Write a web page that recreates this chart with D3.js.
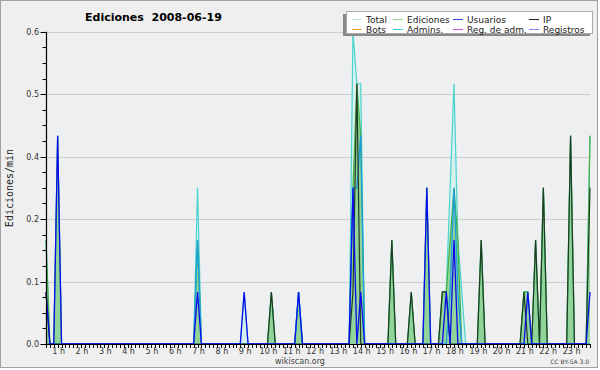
<!DOCTYPE html>
<html>
<head>
<meta charset="utf-8">
<script src="https://cdn.jsdelivr.net/npm/d3@7"></script>
<style>
  body { margin: 0; background: #ffffff; }
  svg text { font-family: "DejaVu Sans", sans-serif; }
</style>
</head>
<body>
<div id="chart"></div>
<script>
// 10 minute slots with activity (zeros bracket every spike)
var times = ["00:30","00:40","00:50","01:00","01:10",
  "06:50","07:00","07:10",
  "08:50","09:00","09:10",
  "10:00","10:10","10:20",
  "11:10","11:20","11:30",
  "13:30","13:40","13:50","14:00","14:10",
  "15:10","15:20","15:30",
  "16:00","16:10","16:20",
  "16:40","16:50","17:00",
  "17:20","17:30","17:40","17:50","18:00","18:10","18:20","18:30",
  "19:00","19:10","19:20",
  "20:50","21:00","21:10","21:20","21:30","21:40","21:50","22:00",
  "22:50","23:00","23:10",
  "23:40","23:50"];

var total = [0.2,0,0,0.4,0, 0,0.3,0, 0,0.1,0, 0,0.1,0, 0,0.1,0,
  0,0.6,0.5,0.5,0, 0,0.2,0, 0,0.1,0, 0,0.3,0,
  0,0.1,0.1,0.3,0.5,0.2,0.1,0, 0,0.2,0,
  0,0.1,0.1,0,0.2,0,0.3,0, 0,0.4,0, 0,0.4];
var ediciones = [0.2,0,0,0.4,0, 0,0.2,0, 0,0,0, 0,0.1,0, 0,0.1,0,
  0,0.3,0.5,0.4,0, 0,0.2,0, 0,0.1,0, 0,0.3,0,
  0,0.1,0.1,0.2,0.3,0.2,0,0, 0,0.2,0,
  0,0.1,0.1,0,0.2,0,0.3,0, 0,0.4,0, 0,0.4];
var usuarios = [0.1,0,0,0.4,0, 0,0.1,0, 0,0.1,0, 0,0,0, 0,0.1,0,
  0,0.3,0,0.1,0, 0,0,0, 0,0,0, 0,0.3,0,
  0,0,0.1,0,0.2,0,0,0, 0,0,0,
  0,0,0.1,0,0,0,0,0, 0,0,0, 0,0.1];
var ip = [0.1,0,0,0,0, 0,0,0, 0,0,0, 0,0.1,0, 0,0,0,
  0,0.1,0.5,0,0, 0,0.2,0, 0,0.1,0, 0,0,0,
  0,0.1,0.1,0,0,0,0,0, 0,0.2,0,
  0,0.1,0,0,0.2,0,0.3,0, 0,0.4,0, 0,0.3];
var admins = [0,0,0,0,0, 0,0.2,0, 0,0,0, 0,0,0, 0,0.1,0,
  0,0.3,0.3,0.4,0, 0,0,0, 0,0,0, 0,0,0,
  0,0,0,0.1,0.3,0.1,0,0, 0,0,0,
  0,0,0,0,0,0,0,0, 0,0,0, 0,0];

var hourLabels = ["1 h","2 h","3 h","4 h","5 h","6 h","7 h","8 h","9 h","10 h","11 h","12 h",
  "13 h","14 h","15 h","16 h","17 h","18 h","19 h","20 h","21 h","22 h","23 h"];
var yTicks = [0, 0.12, 0.24, 0.36, 0.48, 0.6];

var legendNames = ["Total","Ediciones","Usuarios","IP","Bots","Admins.","Reg. de adm.","Registros"];
var legendColors = ["#b4eeee","#8fdc8f","#3a3ae0","#222222","#f0a030","#3ccce0","#d050e0","#8484f0"];

var W = 600, H = 370;
var pLeft = 46, pRight = 590, pTop = 31.7, pBottom = 344;

function toHours(s) {
  var p = s.split(":");
  return +p[0] + p[1] / 60;
}

var svg = d3.select("#chart").append("svg")
  .attr("width", W).attr("height", H);

svg.append("rect")
  .attr("x", 0.5).attr("y", 0.5).attr("width", 597).attr("height", 367)
  .attr("fill", "#efefef").attr("stroke", "#a0a0a0");

svg.append("rect")
  .attr("x", pLeft).attr("y", pTop).attr("width", pRight - pLeft).attr("height", pBottom - pTop)
  .attr("fill", "#edeff1");

var x = d3.scaleLinear().domain([0.5, 23 + 50 / 60]).range([pLeft, pRight]);
var y = d3.scaleLinear().domain([0, 0.6]).range([pBottom, pTop]);

// grid
svg.selectAll("line.grid")
  .data(yTicks.slice(1))
  .enter().append("line")
    .attr("x1", pLeft).attr("x2", pRight)
    .attr("y1", function (d) { return Math.round(y(d)) + 0.5; })
    .attr("y2", function (d) { return Math.round(y(d)) + 0.5; })
    .attr("stroke", "#cdcdcd");

var tx = times.map(toHours);

function series(vals) {
  return vals.map(function (v, i) { return [tx[i], v]; });
}

var area = d3.area()
  .x(function (d) { return x(d[0]); })
  .y0(pBottom)
  .y1(function (d) { return y(d[1]); });
var line = d3.line()
  .x(function (d) { return x(d[0]); })
  .y(function (d) { return y(d[1]); });

var plot = svg.append("g");

plot.append("path").datum(series(total))
  .attr("d", area).attr("fill", "#c6f0f0").attr("fill-opacity", 0.6);
plot.append("path").datum(series(ediciones))
  .attr("d", area).attr("fill", "#6cc46c").attr("fill-opacity", 0.65);
plot.append("path").datum(series(total))
  .attr("d", line).attr("fill", "none").attr("stroke", "#48d4cc").attr("stroke-width", 1.2);
plot.append("path").datum(series(ediciones))
  .attr("d", line).attr("fill", "none").attr("stroke", "#44b044").attr("stroke-width", 1.2);
plot.append("path").datum(series(admins))
  .attr("d", line).attr("fill", "none").attr("stroke", "#1c9ee0").attr("stroke-width", 1.3);
plot.append("path").datum(series(ip))
  .attr("d", line).attr("fill", "none").attr("stroke", "#1f3a22").attr("stroke-width", 1.2);
plot.append("path").datum(series(usuarios))
  .attr("d", line).attr("fill", "none").attr("stroke", "#0a0af0").attr("stroke-width", 1.3);

// y axis
var yMinor = d3.range(0, 21).map(function (i) { return i * 0.03; });
svg.selectAll("line.ym")
  .data(yMinor)
  .enter().append("line")
    .attr("x1", function (d, i) { return i % 4 === 0 ? 40.5 : 42.5; })
    .attr("x2", pLeft)
    .attr("y1", function (d) { return Math.round(y(d)) + 0.5; })
    .attr("y2", function (d) { return Math.round(y(d)) + 0.5; })
    .attr("stroke", "#000");
svg.append("line")
  .attr("x1", pLeft + 0.5).attr("x2", pLeft + 0.5).attr("y1", pTop).attr("y2", pBottom + 1)
  .attr("stroke", "#000").attr("stroke-width", 1.2);
svg.selectAll("text.yl")
  .data(yTicks)
  .enter().append("text")
    .attr("x", 39)
    .attr("y", function (d) { return y(d) + 3; })
    .attr("text-anchor", "end")
    .style("font-size", "8px")
    .style("fill", "#333")
    .text(function (d) { return d.toFixed(1); });

// x axis
var xMinor = d3.range(0, 141).map(function (i) { return 0.5 + i / 6; });
svg.selectAll("line.xm")
  .data(xMinor)
  .enter().append("line")
    .attr("x1", function (d) { return Math.round(x(d)) + 0.5; })
    .attr("x2", function (d) { return Math.round(x(d)) + 0.5; })
    .attr("y1", pBottom).attr("y2", pBottom + 4)
    .attr("stroke", "#000");
svg.append("line")
  .attr("x1", pLeft).attr("x2", pRight + 1).attr("y1", pBottom + 0.5).attr("y2", pBottom + 0.5)
  .attr("stroke", "#000").attr("stroke-width", 1.2);
svg.selectAll("text.xl")
  .data(hourLabels)
  .enter().append("text")
    .attr("x", function (d, i) { return x(i + 1) + 1; })
    .attr("y", 354)
    .attr("text-anchor", "middle")
    .style("font-size", "8px")
    .style("fill", "#333")
    .text(function (d) { return d; });

// titles
svg.append("text")
  .attr("x", 85).attr("y", 21)
  .style("font-size", "11px").style("font-weight", "bold")
  .style("white-space", "pre")
  .attr("xml:space", "preserve")
  .text("Ediciones  2008-06-19");
svg.append("text")
  .attr("transform", "translate(13,188) rotate(-90)")
  .attr("text-anchor", "middle")
  .style("font-family", "'DejaVu Sans Mono', monospace")
  .style("font-size", "10px")
  .style("fill", "#222")
  .text("Ediciones/min");
svg.append("text")
  .attr("x", 300).attr("y", 364)
  .attr("text-anchor", "middle")
  .style("font-size", "8px").style("fill", "#444")
  .text("wikiscan.org");
svg.append("text")
  .attr("x", 589).attr("y", 364)
  .attr("text-anchor", "end")
  .style("font-size", "6px").style("fill", "#444")
  .text("CC BY-SA 3.0");

// legend
var lg = svg.append("g");
lg.append("rect")
  .attr("x", 343).attr("y", 14).attr("width", 247).attr("height", 22)
  .attr("fill", "#888");
lg.append("rect")
  .attr("x", 346.5).attr("y", 11.5).attr("width", 246).attr("height", 22)
  .attr("fill", "#ffffff").attr("stroke", "#aaa");
var colX = [352, 393, 453, 529];
var items = lg.selectAll("g.item")
  .data(legendNames)
  .enter().append("g")
    .attr("transform", function (d, i) {
      return "translate(" + colX[i % 4] + "," + (i < 4 ? 19 : 29) + ")";
    });
items.append("line")
  .attr("x1", 0).attr("x2", 10).attr("y1", 0.5).attr("y2", 0.5)
  .attr("stroke", function (d, i) { return legendColors[i]; });
items.append("text")
  .attr("x", 14).attr("y", 3.5)
  .style("font-size", "9px").style("fill", "#222")
  .text(function (d) { return d; });
</script>
</body>
</html>
